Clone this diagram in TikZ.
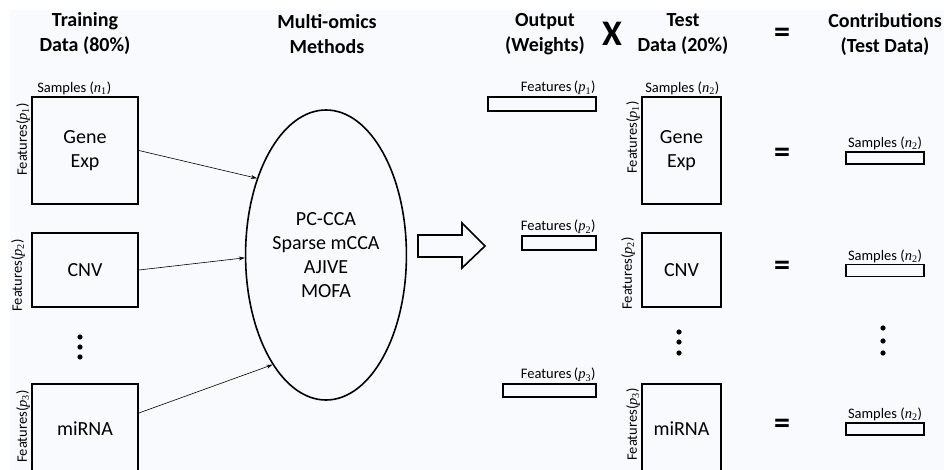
\documentclass[tikz,border=0pt]{standalone}
\usepackage{fontspec}
\setmainfont{Carlito}
\newfontfamily\mathlike{Liberation Serif}
\usepackage{xcolor}
\usetikzlibrary{positioning,arrows.meta,shapes}

\definecolor{bgcol}{RGB}{249,250,253}
\newcommand{\idx}[2]{{\mathlike\itshape #1}\textsubscript{\mathlike #2}}

\begin{document}
\begin{tikzpicture}[x=1pt, y=-1pt, font=\fontsize{20}{24}\selectfont,
        title/.style={font=\bfseries\fontsize{20}{25}\selectfont, align=center},
        datbox/.style={draw, line width=1.8pt, align=center, inner sep=0pt, minimum width=#1},
        bar/.style={draw, line width=1.6pt, inner sep=0pt, minimum width=#1},
        small/.style={font=\fontsize{14.5}{16}\selectfont, inner sep=1pt},
        eqsign/.style={font=\bfseries\fontsize{32}{32}\selectfont, inner sep=0pt},
        link/.style={-{Stealth[length=6pt,width=4pt]}, line width=0.6pt}]

        \clip (0,0) rectangle (944,470);
        \fill[white] (0,0) rectangle (944,470);
        \fill[bgcol] (10,10) rectangle (944,470);

        % column titles
        \node[title] (ttrain) at (85,34) {Training\\Data (80\%)};
        \node[title] (tmeth) at (327,34) {Multi-omics\\Methods};
        \node[title] (tout) at (545,34) {Output\\(Weights)};
        \node[font=\bfseries\fontsize{36}{36}\selectfont, inner sep=0pt] (times) at (612,34) {X};
        \node[title] (ttest) at (683,34) {Test\\Data (20\%)};
        \node[eqsign] (eqtop) at (782,35) {=};
        \node[title] (tcontr) at (885,34) {Contributions\\(Test Data)};

        % training data
        \node[datbox=106pt, minimum height=107pt] (gene) at (85,150.5) {Gene\\Exp};
        \node[datbox=106pt, minimum height=74pt] (cnv) at (85,270) {CNV};
        \node[datbox=106pt, minimum height=90pt] (mirna) at (85,429) {miRNA};
        \node[small, above right=0pt and 5pt of gene.north west, anchor=south west] (sgene) {Samples (\idx{n}{1})};
        \node[small, rotate=90, anchor=south east, xshift=-6pt] (fgene) at (gene.north west) {Features(\idx{p}{1})};
        \node[small, rotate=90, anchor=south east, xshift=-6pt, yshift=5pt] (fcnv) at (cnv.north west) {Features(\idx{p}{2})};
        \node[small, rotate=90, anchor=south east, xshift=-6pt] (fmirna) at (mirna.north west) {Features(\idx{p}{3})};
        \foreach \y in {337,347,357} \fill (80,\y) circle (2.6pt);

        % methods
        \node[draw, ellipse, line width=1.6pt, minimum width=142pt, minimum height=290pt, align=center] (meth) at (326,255)
                {PC-CCA\\Sparse mCCA\\AJIVE\\MOFA};
        \draw[link] (gene.east) -- (meth.132);
        \draw[link] (cnv.east) -- (meth.182);
        \draw[link] ([yshift=16pt]mirna.east) -- (meth.244);

        \draw[line width=1.6pt] (418,235) -- (462,235) -- (462,223) -- (485,246) -- (462,268) -- (462,257) -- (418,257) -- cycle;

        % weights
        \node[bar=108pt, minimum height=14pt] (w1) at (542,104) {};
        \node[bar=74pt, minimum height=14pt] (w2) at (559,243) {};
        \node[bar=93pt, minimum height=13pt] (w3) at (549.5,390.5) {};
        \node[small, above left=0pt and 0pt of w1.north east, anchor=south east] (lw1) {Features\,(\idx{p}{1})};
        \node[small, above left=0pt and 0pt of w2.north east, anchor=south east] (lw2) {Features\,(\idx{p}{2})};
        \node[small, above left=0pt and 0pt of w3.north east, anchor=south east] (lw3) {Features\,(\idx{p}{3})};

        % test data
        \node[datbox=79pt, minimum height=107pt] (tgene) at (681.5,150.5) {Gene\\Exp};
        \node[datbox=79pt, minimum height=74pt] (tcnv) at (681.5,270) {CNV};
        \node[datbox=79pt, minimum height=90pt] (tmirna) at (681.5,429) {miRNA};
        \node[small, above right=0pt and 3pt of tgene.north west, anchor=south west] (stgene) {Samples (\idx{n}{2})};
        \node[small, rotate=90, anchor=south east, xshift=-4pt] (ftgene) at (tgene.north west) {Features(\idx{p}{1})};
        \node[small, rotate=90, anchor=south east, xshift=-4pt, yshift=5pt] (ftcnv) at (tcnv.north west) {Features(\idx{p}{2})};
        \node[small, rotate=90, anchor=south east, xshift=-4pt] (ftmirna) at (tmirna.north west) {Features(\idx{p}{3})};
        \foreach \y in {332,342,353} \fill (679,\y) circle (2.6pt);

        % contributions
        \node[eqsign] (eq1) at (782,155) {=};
        \node[eqsign] (eq2) at (782,268) {=};
        \node[eqsign] (eq3) at (782,426) {=};
        \node[bar=78pt, minimum height=12pt] (c1) at (885,158) {};
        \node[bar=78pt, minimum height=12pt] (c2) at (885,270.5) {};
        \node[bar=78pt, minimum height=12pt] (c3) at (885,429) {};
        \node[small, above=0pt of c1] (lc1) {Samples (\idx{n}{2})};
        \node[small, above=0pt of c2] (lc2) {Samples (\idx{n}{2})};
        \node[small, above=0pt of c3] (lc3) {Samples (\idx{n}{2})};
        \foreach \y in {328,341,353} \fill (883,\y) circle (2.6pt);

\end{tikzpicture}
\end{document}
